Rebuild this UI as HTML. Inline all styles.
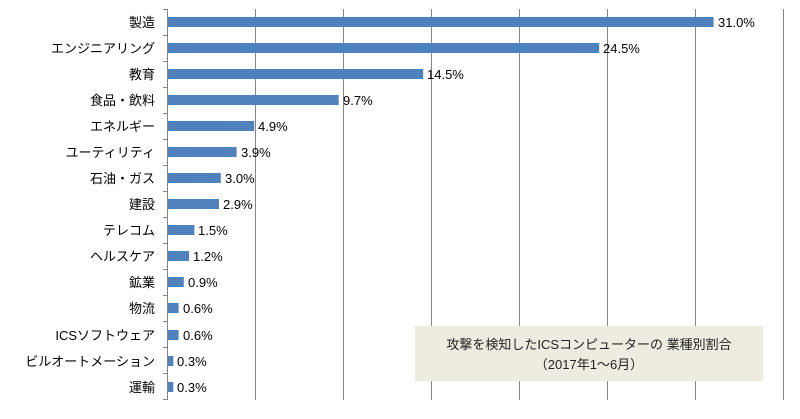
<!DOCTYPE html><html><head><meta charset="utf-8"><style>body{margin:0;background:#fff}</style></head><body>
<svg width="800" height="414" xmlns="http://www.w3.org/2000/svg" font-family="'Liberation Sans','Noto Sans CJK JP',sans-serif" font-size="13">
<g stroke="#868686" stroke-width="1">
<line x1="255.5" y1="9" x2="255.5" y2="400"/><line x1="343.5" y1="9" x2="343.5" y2="400"/><line x1="431.5" y1="9" x2="431.5" y2="400"/><line x1="519.5" y1="9" x2="519.5" y2="400"/><line x1="607.5" y1="9" x2="607.5" y2="400"/><line x1="695.5" y1="9" x2="695.5" y2="400"/><line x1="783.5" y1="9" x2="783.5" y2="400"/>
<line x1="167.5" y1="9" x2="167.5" y2="400"/>
<line x1="163" x2="167" y1="9.5" y2="9.5"/><line x1="163" x2="167" y1="35.5" y2="35.5"/><line x1="163" x2="167" y1="61.5" y2="61.5"/><line x1="163" x2="167" y1="87.5" y2="87.5"/><line x1="163" x2="167" y1="113.5" y2="113.5"/><line x1="163" x2="167" y1="139.5" y2="139.5"/><line x1="163" x2="167" y1="165.5" y2="165.5"/><line x1="163" x2="167" y1="191.5" y2="191.5"/><line x1="163" x2="167" y1="217.5" y2="217.5"/><line x1="163" x2="167" y1="243.5" y2="243.5"/><line x1="163" x2="167" y1="269.5" y2="269.5"/><line x1="163" x2="167" y1="295.5" y2="295.5"/><line x1="163" x2="167" y1="321.5" y2="321.5"/><line x1="163" x2="167" y1="347.5" y2="347.5"/><line x1="163" x2="167" y1="373.5" y2="373.5"/><line x1="163" x2="167" y1="399.5" y2="399.5"/>
</g>
<g fill="#4f81bd">
<rect x="168" y="17" width="545.6" height="10"/>
<rect x="168" y="43" width="431.2" height="10"/>
<rect x="168" y="69" width="255.2" height="10"/>
<rect x="168" y="95" width="170.7" height="10"/>
<rect x="168" y="121" width="86.2" height="10"/>
<rect x="168" y="147" width="68.6" height="10"/>
<rect x="168" y="173" width="52.8" height="10"/>
<rect x="168" y="199" width="51" height="10"/>
<rect x="168" y="225" width="26.4" height="10"/>
<rect x="168" y="251" width="21.1" height="10"/>
<rect x="168" y="277" width="15.8" height="10"/>
<rect x="168" y="303" width="10.6" height="10"/>
<rect x="168" y="330" width="10.6" height="10"/>
<rect x="168" y="356" width="5.3" height="10"/>
<rect x="168" y="382" width="5.3" height="10"/>
</g>
<g fill="#000" text-anchor="end">
<text x="155" y="27">製造</text>
<text x="155" y="53">エンジニアリング</text>
<text x="155" y="79">教育</text>
<text x="155" y="105">食品・飲料</text>
<text x="155" y="131">エネルギー</text>
<text x="155" y="157">ユーティリティ</text>
<text x="155" y="183">石油・ガス</text>
<text x="155" y="209">建設</text>
<text x="155" y="235">テレコム</text>
<text x="155" y="261">ヘルスケア</text>
<text x="155" y="287">鉱業</text>
<text x="155" y="313">物流</text>
<text x="155" y="340">ICSソフトウェア</text>
<text x="155" y="366">ビルオートメーション</text>
<text x="155" y="392">運輸</text>
</g>
<g fill="#000">
<text x="718" y="27">31.0%</text>
<text x="603" y="53">24.5%</text>
<text x="427" y="79">14.5%</text>
<text x="343" y="105">9.7%</text>
<text x="258" y="131">4.9%</text>
<text x="241" y="157">3.9%</text>
<text x="225" y="183">3.0%</text>
<text x="223" y="209">2.9%</text>
<text x="198" y="235">1.5%</text>
<text x="193" y="261">1.2%</text>
<text x="188" y="287">0.9%</text>
<text x="183" y="313">0.6%</text>
<text x="183" y="340">0.6%</text>
<text x="177" y="366">0.3%</text>
<text x="177" y="392">0.3%</text>
</g>
<rect x="415" y="326" width="348" height="55" fill="#eeece1"/>
<text x="589" y="349" text-anchor="middle" fill="#222">攻撃を検知したICSコンピューターの 業種別割合</text>
<text x="589" y="369" text-anchor="middle" fill="#222">（2017年1～6月）</text>
</svg></body></html>
